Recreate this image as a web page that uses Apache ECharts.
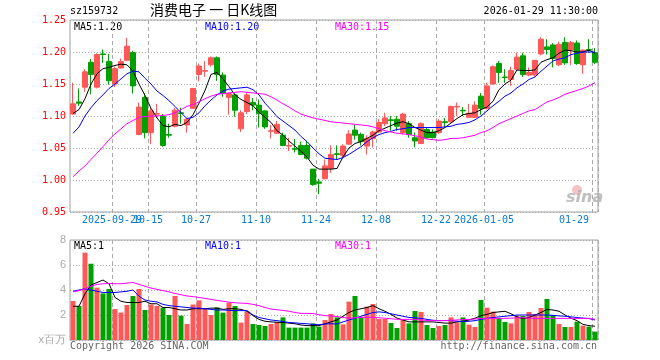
<!DOCTYPE html>
<html>
<head>
<meta charset="utf-8">
<script src="https://cdn.jsdelivr.net/npm/echarts@6/dist/echarts.min.js"></script>
<style>html,body{margin:0;padding:0;background:#fff}#c{width:660px;height:360px}</style>
</head>
<body>
<div id="c"></div>
<script>
const dates = [
 '2025-09-18','2025-09-19','2025-09-22','2025-09-23','2025-09-24','2025-09-25','2025-09-26','2025-09-29','2025-09-30',
 '2025-10-09','2025-10-10','2025-10-13','2025-10-14','2025-10-15','2025-10-16','2025-10-17','2025-10-20','2025-10-21','2025-10-22','2025-10-23','2025-10-24','2025-10-27','2025-10-28','2025-10-29','2025-10-30','2025-10-31',
 '2025-11-03','2025-11-04','2025-11-05','2025-11-06','2025-11-07','2025-11-10','2025-11-11','2025-11-12','2025-11-13','2025-11-14','2025-11-17','2025-11-18','2025-11-19','2025-11-20','2025-11-21','2025-11-24','2025-11-25','2025-11-26','2025-11-27','2025-11-28',
 '2025-12-01','2025-12-02','2025-12-03','2025-12-04','2025-12-05','2025-12-08','2025-12-09','2025-12-10','2025-12-11','2025-12-12','2025-12-15','2025-12-16','2025-12-17','2025-12-18','2025-12-19','2025-12-22','2025-12-23','2025-12-24','2025-12-25','2025-12-26','2025-12-29','2025-12-30','2025-12-31',
 '2026-01-05','2026-01-06','2026-01-07','2026-01-08','2026-01-09','2026-01-12','2026-01-13','2026-01-14','2026-01-15','2026-01-16','2026-01-19','2026-01-20','2026-01-21','2026-01-22','2026-01-23','2026-01-26','2026-01-27','2026-01-28','2026-01-29'
];
const tickDates = ['2025-09-29','2025-10-15','2025-10-27','2025-11-10','2025-11-24','2025-12-08','2025-12-22','2026-01-05','2026-01-29'];
const tickLabels = ['2025-09-29','10-15','10-27','11-10','11-24','12-08','12-22','2026-01-05','01-29'];

const open  = [1.103,1.122,1.145,1.184,1.145,1.197,1.185,1.150,1.175,1.187,1.199,1.071,1.129,1.074,1.103,1.099,1.071,1.084,1.105,1.086,1.112,1.165,1.170,1.180,1.191,1.164,1.129,1.133,1.080,1.107,1.121,1.117,1.108,1.076,1.073,1.070,1.053,1.049,1.054,1.054,1.017,0.997,1.002,1.018,1.041,1.038,1.056,1.078,1.071,1.053,1.065,1.075,1.088,1.094,1.095,1.074,1.088,1.066,1.057,1.079,1.075,1.074,1.091,1.091,1.114,1.109,1.098,1.098,1.131,1.112,1.150,1.182,1.161,1.157,1.173,1.194,1.164,1.164,1.197,1.208,1.211,1.180,1.215,1.203,1.214,1.180,1.204,1.199];
const close = [1.119,1.120,1.169,1.165,1.196,1.196,1.155,1.174,1.185,1.209,1.147,1.114,1.074,1.108,1.104,1.054,1.070,1.109,1.104,1.095,1.143,1.178,1.171,1.191,1.165,1.135,1.135,1.109,1.105,1.133,1.117,1.104,1.083,1.077,1.087,1.054,1.054,1.048,1.040,1.034,0.993,0.995,1.022,1.040,1.040,1.053,1.072,1.070,1.060,1.065,1.075,1.090,1.097,1.093,1.084,1.103,1.071,1.061,1.088,1.066,1.066,1.092,1.090,1.115,1.115,1.108,1.104,1.117,1.112,1.147,1.177,1.168,1.160,1.171,1.192,1.165,1.168,1.187,1.220,1.204,1.190,1.212,1.183,1.215,1.182,1.203,1.203,1.184];
const low   = [1.102,1.116,1.138,1.134,1.143,1.183,1.149,1.145,1.174,1.186,1.135,1.070,1.065,1.056,1.097,1.052,1.066,1.082,1.088,1.074,1.112,1.154,1.161,1.177,1.155,1.130,1.102,1.099,1.075,1.103,1.109,1.082,1.080,1.065,1.072,1.053,1.045,1.043,1.039,1.032,0.991,0.978,1.001,1.011,1.032,1.036,1.055,1.063,1.054,1.040,1.051,1.074,1.084,1.077,1.077,1.071,1.066,1.051,1.056,1.064,1.065,1.072,1.082,1.090,1.100,1.100,1.098,1.097,1.102,1.110,1.149,1.152,1.152,1.147,1.170,1.161,1.162,1.162,1.195,1.196,1.176,1.178,1.180,1.180,1.180,1.166,1.199,1.181];
const high  = [1.152,1.143,1.173,1.189,1.198,1.204,1.197,1.177,1.190,1.222,1.202,1.121,1.136,1.113,1.119,1.103,1.088,1.113,1.113,1.097,1.143,1.182,1.186,1.193,1.193,1.168,1.137,1.135,1.109,1.137,1.128,1.126,1.109,1.086,1.092,1.074,1.066,1.064,1.060,1.061,1.017,1.002,1.032,1.054,1.054,1.056,1.078,1.086,1.074,1.070,1.077,1.095,1.105,1.100,1.100,1.105,1.092,1.074,1.090,1.082,1.079,1.095,1.097,1.116,1.121,1.114,1.119,1.123,1.136,1.152,1.179,1.186,1.173,1.177,1.199,1.199,1.176,1.187,1.223,1.220,1.214,1.216,1.223,1.217,1.218,1.204,1.220,1.206];

const ma5  = [1.104,1.110,1.127,1.150,1.166,1.174,1.176,1.179,1.181,1.180,1.170,1.150,1.132,1.112,1.097,1.085,1.083,1.087,1.085,1.090,1.102,1.120,1.140,1.165,1.168,1.158,1.146,1.133,1.126,1.121,1.116,1.106,1.098,1.090,1.077,1.070,1.061,1.053,1.045,1.036,1.023,1.017,1.017,1.017,1.018,1.036,1.050,1.057,1.060,1.065,1.070,1.077,1.081,1.085,1.089,1.091,1.088,1.082,1.078,1.074,1.074,1.077,1.082,1.089,1.096,1.102,1.104,1.105,1.110,1.114,1.123,1.141,1.150,1.156,1.172,1.171,1.171,1.172,1.184,1.188,1.191,1.198,1.203,1.202,1.200,1.200,1.203,1.198];
const ma10 = [1.073,1.083,1.100,1.113,1.124,1.133,1.143,1.150,1.158,1.166,1.170,1.169,1.159,1.150,1.139,1.132,1.124,1.115,1.105,1.096,1.098,1.105,1.116,1.125,1.133,1.139,1.142,1.143,1.144,1.145,1.141,1.133,1.120,1.110,1.099,1.092,1.085,1.078,1.068,1.060,1.050,1.041,1.034,1.033,1.032,1.035,1.040,1.046,1.052,1.060,1.066,1.071,1.074,1.076,1.079,1.080,1.082,1.082,1.082,1.082,1.082,1.082,1.083,1.084,1.087,1.088,1.090,1.094,1.100,1.108,1.116,1.123,1.131,1.136,1.144,1.150,1.157,1.161,1.170,1.178,1.186,1.189,1.191,1.196,1.198,1.200,1.200,1.200];
const ma30 = [1.005,1.014,1.022,1.032,1.042,1.052,1.063,1.072,1.080,1.088,1.093,1.098,1.099,1.100,1.100,1.101,1.102,1.105,1.110,1.115,1.118,1.122,1.127,1.131,1.134,1.135,1.136,1.137,1.138,1.137,1.136,1.135,1.134,1.130,1.125,1.119,1.114,1.108,1.103,1.100,1.097,1.095,1.093,1.091,1.090,1.089,1.088,1.087,1.086,1.085,1.083,1.080,1.077,1.075,1.073,1.072,1.071,1.069,1.067,1.064,1.063,1.062,1.063,1.065,1.065,1.066,1.068,1.070,1.074,1.077,1.082,1.088,1.092,1.096,1.100,1.104,1.108,1.110,1.116,1.122,1.125,1.129,1.134,1.137,1.140,1.143,1.147,1.152];

const volume = [3.12,2.72,6.99,6.10,4.19,3.73,4.08,2.48,2.20,2.80,3.52,4.08,2.40,2.84,2.72,2.59,2.00,3.52,1.95,1.28,2.84,3.17,2.51,2.00,2.61,2.19,2.99,2.72,1.39,2.27,1.28,1.20,1.12,1.28,1.44,1.81,0.99,0.99,0.99,0.99,1.33,1.07,1.60,2.08,1.81,1.25,3.07,3.52,1.81,2.67,2.88,1.68,1.68,1.36,0.96,1.60,1.33,2.32,2.24,1.20,0.96,1.12,1.20,1.81,1.41,1.81,1.23,1.04,3.20,2.59,2.27,1.76,1.44,1.33,1.95,1.92,2.24,2.08,2.56,3.28,2.00,1.28,1.04,1.04,1.47,1.15,1.07,0.67];
const volUp = [1,0,1,0,1,0,0,1,1,1,0,1,0,1,1,0,0,1,0,1,1,1,1,1,0,0,1,0,1,1,0,0,0,1,1,0,0,0,0,0,0,0,1,1,0,1,1,0,0,1,1,1,1,0,0,1,0,0,1,0,0,1,0,1,1,0,1,1,0,1,1,0,0,1,1,0,1,1,1,0,0,1,0,1,0,1,0,0];
const vma5  = [2.7,2.7,3.7,4.4,4.6,4.8,4.5,3.4,3.1,3.0,3.0,3.0,3.1,2.9,2.9,2.6,2.6,2.5,2.4,2.4,2.5,2.5,2.5,2.55,2.55,2.45,2.5,2.5,2.45,2.3,1.95,1.65,1.5,1.45,1.42,1.4,1.35,1.3,1.2,1.15,1.15,1.15,1.3,1.45,1.6,1.9,2.2,2.4,2.5,2.6,2.75,2.5,2.3,2.05,1.75,1.6,1.45,1.45,1.45,1.45,1.45,1.4,1.35,1.35,1.45,1.5,1.6,1.75,1.95,2.05,2.2,2.25,2.3,2.1,1.85,1.7,1.8,2.0,2.2,2.45,2.4,2.3,2.0,1.75,1.55,1.25,1.15,1.1];
const vma10 = [3.9,4.0,4.1,4.0,3.9,3.8,3.8,3.8,3.85,3.9,4.0,3.5,3.2,3.1,3.05,2.85,2.75,2.7,2.65,2.6,2.55,2.55,2.5,2.45,2.4,2.4,2.38,2.35,2.35,2.35,2.0,1.8,1.7,1.6,1.55,1.48,1.4,1.37,1.33,1.3,1.25,1.22,1.28,1.3,1.28,1.45,1.6,1.75,1.9,2.05,2.2,2.25,2.2,2.1,2.0,1.9,1.8,1.78,1.73,1.65,1.58,1.55,1.55,1.55,1.5,1.47,1.5,1.55,1.65,1.73,1.8,1.85,1.9,1.95,2.0,2.0,2.0,2.0,2.0,2.0,1.97,1.93,1.9,1.85,1.8,1.75,1.72,1.6];
const vma30 = [3.85,3.95,4.1,4.3,4.45,4.5,4.52,4.5,4.5,4.55,4.6,4.45,4.3,4.15,4.05,3.95,3.85,3.72,3.62,3.52,3.47,3.4,3.33,3.25,3.17,3.1,3.03,2.98,2.95,2.93,2.85,2.75,2.6,2.47,2.42,2.37,2.3,2.2,2.13,2.13,2.12,2.02,1.95,1.92,1.88,1.8,1.74,1.78,1.81,1.81,1.81,1.78,1.74,1.7,1.66,1.65,1.65,1.65,1.6,1.56,1.55,1.55,1.56,1.58,1.6,1.63,1.65,1.68,1.72,1.73,1.73,1.73,1.73,1.75,1.78,1.78,1.75,1.73,1.73,1.73,1.73,1.73,1.73,1.73,1.73,1.73,1.73,1.66];

const priceMin = 0.95, priceMax = 1.25, priceStep = 0.05;
const volMin = 0, volMax = 8, volStep = 2;

const RED = '#ff5858', GREEN = '#00a000';
const MONO = '"DejaVu Sans Mono", monospace';

const isTick = (v) => tickDates.indexOf(v) >= 0;
const tickIntervalFn = (idx, v) => isTick(dates[idx]);
const firstTickFn = (idx, v) => dates[idx] === tickDates[0];
const otherTickFn = (idx, v) => isTick(dates[idx]) && dates[idx] !== tickDates[0];

const candleData = dates.map((d, i) => [open[i], close[i], low[i], high[i]]);
const volData = volume.map((v, i) => ({ value: v, itemStyle: { color: volUp[i] ? RED : GREEN } }));

function labelCfg(intervalFn) {
  return {
    show: true, interval: intervalFn, margin: 3, hideOverlap: false,
    color: '#0a7ad0', fontFamily: MONO, fontSize: 10,
    padding: [0, 6, 0, 0], alignMaxLabel: 'right',
    formatter: (v) => tickLabels[tickDates.indexOf(v)] || ''
  };
}
function xAxisCfg(gridIndex, label, split) {
  return {
    type: 'category', gridIndex: gridIndex, data: dates, boundaryGap: true, position: 'bottom', offset: 0,
    axisLine: { show: false }, axisTick: { show: false, interval: tickIntervalFn },
    axisLabel: label ? labelCfg(label) : { show: false },
    splitLine: { show: split, interval: tickIntervalFn, lineStyle: { color: '#aaaaaa', type: [4, 3], width: 1 } }
  };
}

const chart = echarts.init(document.getElementById('c'), null, { renderer: 'canvas' });
chart.setOption({
  animation: false,
  backgroundColor: '#ffffff',
  grid: [
    { left: 70, right: 62, top: 20, height: 192, show: true, borderColor: '#a0a0a0', borderWidth: 1, containLabel: false, outerBoundsMode: 'none' },
    { left: 70, right: 62, top: 240, height: 100, show: true, borderColor: '#a0a0a0', borderWidth: 1, containLabel: false, outerBoundsMode: 'none' }
  ],
  xAxis: [xAxisCfg(0, otherTickFn, true), xAxisCfg(1, null, true), xAxisCfg(0, firstTickFn, false)],
  yAxis: [
    {
      type: 'value', gridIndex: 0, min: priceMin, max: priceMax, interval: priceStep, scale: true,
      axisLine: { show: false }, axisTick: { show: false },
      axisLabel: { color: '#ff0000', fontFamily: MONO, fontSize: 10, margin: 4, formatter: (v) => v.toFixed(2) },
      splitLine: { show: true, lineStyle: { color: '#aaaaaa', type: [1, 2], width: 1 } }
    },
    {
      type: 'value', gridIndex: 1, min: volMin, max: volMax, interval: volStep,
      axisLine: { show: false }, axisTick: { show: false },
      axisLabel: { color: '#aaaaaa', fontFamily: '"Liberation Sans", Arial, sans-serif', fontSize: 11, margin: 4,
        formatter: (v) => v === 0 ? 'x百万' : String(v) },
      splitLine: { show: true, lineStyle: { color: '#aaaaaa', type: [1, 2], width: 1 } }
    }
  ],
  series: [
    {
      type: 'candlestick', xAxisIndex: 0, yAxisIndex: 0, data: candleData, barWidth: 5, silent: true,
      itemStyle: { color: RED, color0: GREEN, borderColor: RED, borderColor0: GREEN, borderWidth: 1 }
    },
    { type: 'line', xAxisIndex: 0, yAxisIndex: 0, data: ma5, showSymbol: false, silent: true, lineStyle: { color: '#000000', width: 1 } },
    { type: 'line', xAxisIndex: 0, yAxisIndex: 0, data: ma10, showSymbol: false, silent: true, lineStyle: { color: '#0000ff', width: 1 } },
    { type: 'line', xAxisIndex: 0, yAxisIndex: 0, data: ma30, showSymbol: false, silent: true, lineStyle: { color: '#ff00ff', width: 1 } },
    { type: 'bar', xAxisIndex: 1, yAxisIndex: 1, data: volData, barWidth: 5, silent: true },
    { type: 'line', xAxisIndex: 1, yAxisIndex: 1, data: vma5, showSymbol: false, silent: true, lineStyle: { color: '#000000', width: 1 } },
    { type: 'line', xAxisIndex: 1, yAxisIndex: 1, data: vma10, showSymbol: false, silent: true, lineStyle: { color: '#0000ff', width: 1 } },
    { type: 'line', xAxisIndex: 1, yAxisIndex: 1, data: vma30, showSymbol: false, silent: true, lineStyle: { color: '#ff00ff', width: 1 } }
  ],
  graphic: [
    { type: 'text', left: 70, top: 6, style: { text: 'sz159732', fill: '#000', font: '10px ' + MONO } },
    { type: 'text', left: 150, top: 3, style: { text: '消费电子 一 日K线图', fill: '#000', font: '14px "Noto Sans CJK SC", sans-serif' } },
    { type: 'text', right: 62, top: 6, style: { text: '2026-01-29 11:30:00', fill: '#000', font: '10px ' + MONO } },
    { type: 'text', left: 74, top: 22, style: { text: 'MA5:1.20', fill: '#000', font: '10px ' + MONO } },
    { type: 'text', left: 205, top: 22, style: { text: 'MA10:1.20', fill: '#0000ff', font: '10px ' + MONO } },
    { type: 'text', left: 335, top: 22, style: { text: 'MA30:1.15', fill: '#ff00ff', font: '10px ' + MONO } },
    { type: 'text', left: 74, top: 241, style: { text: 'MA5:1', fill: '#000', font: '10px ' + MONO } },
    { type: 'text', left: 205, top: 241, style: { text: 'MA10:1', fill: '#0000ff', font: '10px ' + MONO } },
    { type: 'text', left: 335, top: 241, style: { text: 'MA30:1', fill: '#ff00ff', font: '10px ' + MONO } },
    { type: 'text', left: 70, top: 341, style: { text: 'Copyright 2026 SINA.COM', fill: '#666', font: '10px ' + MONO } },
    { type: 'text', right: 63, top: 341, style: { text: 'http://finance.sina.com.cn', fill: '#666', font: '10px ' + MONO } },
    { type: 'circle', shape: { cx: 577, cy: 190, r: 5 }, style: { fill: 'rgba(235,120,120,0.45)' }, silent: true },
    { type: 'text', left: 566, top: 190, style: { text: 'sina', fill: 'rgba(170,170,170,0.75)', font: 'italic bold 16px "DejaVu Sans", sans-serif' }, silent: true }
  ]
});
</script>
</body>
</html>
